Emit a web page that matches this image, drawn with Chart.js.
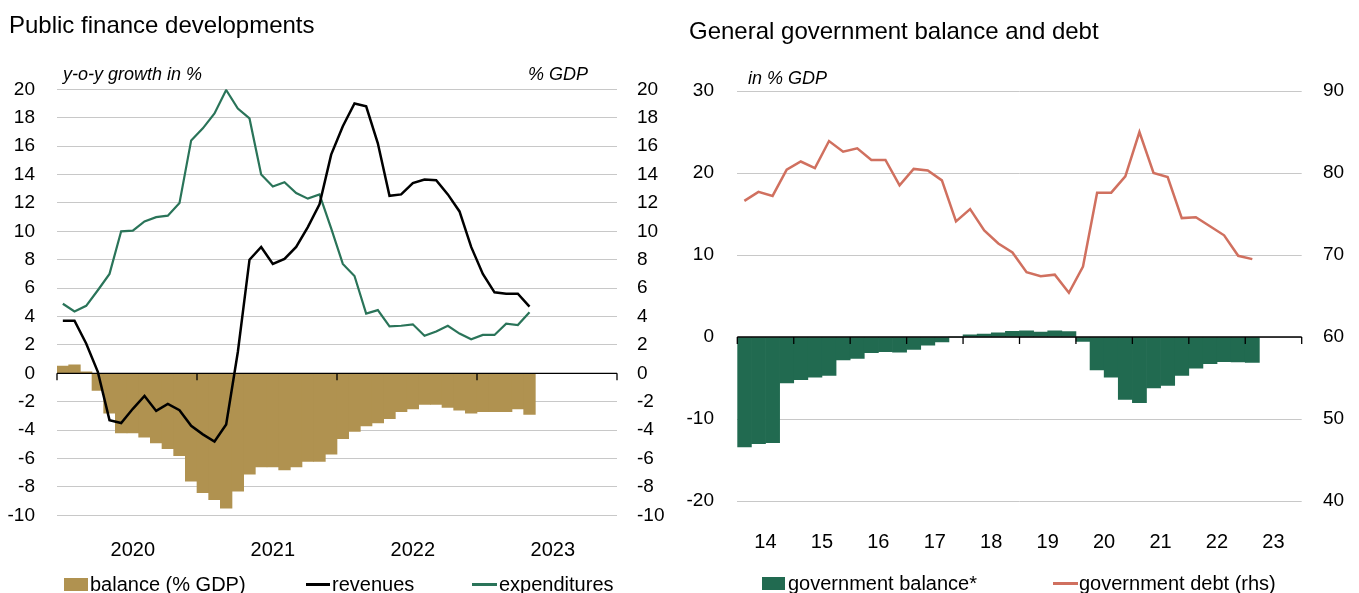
<html>
<head>
<meta charset="UTF-8" />
<title>Public finance developments</title>
<script src="https://cdn.jsdelivr.net/npm/chart.js"></script>
<style>
  body {
    margin: 0;
    padding: 0;
    width: 1359px;
    height: 593px;
    overflow: hidden;
    background: #ffffff;
    font-family: "Liberation Sans", Arial, sans-serif;
    color: #000000;
  }
  .box { position: absolute; top: 0; height: 593px; }
  .txt { position: absolute; white-space: nowrap; line-height: 1; }
  .title { font-size: 24px; }
  .unit { font-size: 18px; font-style: italic; }
  .leg { font-size: 20px; }
  .sw { position: absolute; }
</style>
<script>
// left chart: monthly, y-o-y growth in % / balance in % GDP
var years1 = ["2020", "2021", "2022", "2023"];
var balance1 = [0.5, 0.6, 0.1, -1.2, -2.8, -4.2, -4.2, -4.5, -4.9, -5.3, -5.8, -7.6,
                -8.4, -8.9, -9.5, -8.3, -7.1, -6.6, -6.6, -6.8, -6.6, -6.2, -6.2, -5.7,
                -4.6, -4.1, -3.7, -3.5, -3.2, -2.7, -2.5, -2.2, -2.2, -2.4, -2.6, -2.8,
                -2.7, -2.7, -2.7, -2.5, -2.9];
var revenues = [3.7, 3.7, 2.1, 0.1, -3.3, -3.5, -2.5, -1.6, -2.65, -2.15, -2.6, -3.7,
                -4.3, -4.8, -3.6, 1.5, 8.0, 8.9, 7.7, 8.05, 8.9, 10.3, 11.9, 15.4,
                17.4, 19.0, 18.8, 16.2, 12.5, 12.6, 13.4, 13.65, 13.6, 12.6, 11.4, 8.9,
                7.0, 5.7, 5.6, 5.6, 4.7];
var expenditures = [4.9, 4.35, 4.75, 5.85, 7.0, 10.0, 10.05, 10.7, 11.0, 11.1, 12.0, 16.4,
                    17.25, 18.3, 19.95, 18.65, 17.95, 14.0, 13.15, 13.45, 12.7, 12.3, 12.6, 10.2,
                    7.7, 6.85, 4.2, 4.45, 3.3, 3.35, 3.45, 2.65, 2.95, 3.35, 2.8, 2.4,
                    2.7, 2.7, 3.5, 3.4, 4.3];

// right chart: quarterly, in % GDP
var years2 = ["14", "15", "16", "17", "18", "19", "20", "21", "22", "23"];
var govBalance = [-13.4, -13.0, -12.9, -5.6, -5.2, -4.9, -4.7, -2.8, -2.6, -1.9, -1.8, -1.85,
                  -1.5, -1.0, -0.6, 0.0, 0.25, 0.35, 0.5, 0.7, 0.75, 0.6, 0.75, 0.65,
                  -0.55, -4.0, -4.9, -7.6, -8.0, -6.2, -5.9, -4.7, -3.8, -3.25, -3.0, -3.05,
                  -3.1];
var govDebt = [76.6, 77.7, 77.2, 80.4, 81.4, 80.6, 83.9, 82.6, 83.0, 81.6, 81.6, 78.5,
               80.5, 80.3, 79.1, 74.1, 75.6, 73.0, 71.4, 70.3, 67.9, 67.4, 67.6, 65.4,
               68.6, 77.6, 77.6, 79.6, 85.0, 80.0, 79.5, 74.5, 74.6, 73.5, 72.4, 69.9,
               69.5];

var TAN = "#b09250";
var GREEN_LINE = "#2a7459";
var GREEN_BAR = "#216a50";
var SALMON = "#d0705f";
var GRID = "#c8c8c8";

// black zero line with year tick marks, drawn right after the bars
var zeroAxis = {
    id: "zeroAxis",
    afterDatasetDraw: function(chart, args, opts) {
        if (args.index !== 0) return;
        var ctx = chart.ctx, a = chart.chartArea;
        var xs = chart.scales.x, ys = chart.scales.y;
        var y0 = ys.getPixelForValue(0);
        ctx.save();
        ctx.strokeStyle = "#000000";
        ctx.lineWidth = 1.3;
        ctx.beginPath();
        ctx.moveTo(a.left, y0);
        ctx.lineTo(a.right, y0);
        for (var i = 0; i <= chart.data.labels.length; i += opts.every) {
            var x = xs.getPixelForValue(i - 0.5);
            ctx.moveTo(x, y0);
            ctx.lineTo(x, y0 + 7);
        }
        ctx.stroke();
        ctx.restore();
    }
};
</script>
</head>
<body>
<div class="box" style="left:0; width:670px;"><canvas id="left" width="670" height="593"></canvas></div>
<div class="box" style="left:670px; width:689px;"><canvas id="right" width="689" height="593"></canvas></div>

<div class="txt title" style="left:9px; top:13px;">Public finance developments</div>
<div class="txt unit" style="left:63px; top:65px;">y-o-y growth in %</div>
<div class="txt unit" style="right:771px; top:65px;">% GDP</div>

<div class="txt title" style="left:689px; top:19px;">General government balance and debt</div>
<div class="txt unit" style="left:748px; top:69px;">in % GDP</div>

<div class="sw" style="left:64px; top:578px; width:24px; height:13px; background:#b09250;"></div>
<div class="txt leg" style="left:90px; top:574px;">balance (% GDP)</div>
<div class="sw" style="left:306px; top:583px; width:24px; height:2.5px; background:#000000;"></div>
<div class="txt leg" style="left:332px; top:574px;">revenues</div>
<div class="sw" style="left:472px; top:583px; width:25px; height:2.5px; background:#2a7459;"></div>
<div class="txt leg" style="left:499px; top:574px;">expenditures</div>

<div class="sw" style="left:762px; top:577px; width:23px; height:13px; background:#216a50;"></div>
<div class="txt leg" style="left:788px; top:573px;">government balance*</div>
<div class="sw" style="left:1053px; top:582px; width:25px; height:2.5px; background:#d0705f;"></div>
<div class="txt leg" style="left:1079px; top:573px;">government debt (rhs)</div>

<script>
Chart.defaults.font.family = "'Liberation Sans', Arial, sans-serif";
Chart.defaults.color = "#000000";

var months = [];
for (var y = 0; y < years1.length; y++) {
    for (var m = 1; m <= 12; m++) {
        months.push(years1[y] + "-" + (m < 10 ? "0" + m : m));
    }
}
var quarters = [];
for (var q = 0; q < years2.length; q++) {
    for (var k = 1; k <= 4; k++) {
        quarters.push(years2[q] + "Q" + k);
    }
}

new Chart(document.getElementById("left"), {
    type: "bar",
    data: {
        labels: months,
        datasets: [
            {
                type: "bar",
                label: "balance (% GDP)",
                data: balance1,
                backgroundColor: TAN,
                borderWidth: 0,
                barPercentage: 1,
                categoryPercentage: 1,
                yAxisID: "y",
                order: 2,
            },
            {
                type: "line",
                label: "revenues",
                data: revenues,
                borderColor: "#000000",
                borderWidth: 2.5,
                pointRadius: 0,
                tension: 0,
                yAxisID: "y",
                order: 1,
            },
            {
                type: "line",
                label: "expenditures",
                data: expenditures,
                borderColor: GREEN_LINE,
                borderWidth: 2.2,
                pointRadius: 0,
                tension: 0,
                yAxisID: "y",
                order: 1,
            },
        ],
    },
    options: {
        responsive: false,
        animation: false,
        layout: { padding: { top: 89.3, left: 0, right: 0, bottom: 0 } },
        plugins: {
            legend: { display: false },
            tooltip: { enabled: false },
            zeroAxis: { every: 12 },
        },
        scales: {
            x: {
                grid: { display: false },
                border: { display: false },
                ticks: {
                    autoSkip: false,
                    maxRotation: 0,
                    minRotation: 0,
                    padding: 15,
                    font: { size: 20 },
                    callback: function(v, i) { return i % 12 === 6 ? years1[Math.floor(i / 12)] : ""; },
                },
                afterFit: function(s) { s.height = 77.7; },
            },
            y: {
                position: "left",
                min: -10,
                max: 20,
                grid: { color: GRID, lineWidth: 1, drawTicks: false },
                border: { display: false },
                ticks: { stepSize: 2, padding: 22, font: { size: 19 } },
                afterFit: function(s) { s.width = 57; },
            },
            y2: {
                position: "right",
                min: -10,
                max: 20,
                grid: { drawOnChartArea: false, drawTicks: false },
                border: { display: false },
                ticks: { stepSize: 2, padding: 20, font: { size: 19 } },
                afterFit: function(s) { s.width = 53; },
            },
        },
    },
    plugins: [zeroAxis],
});

new Chart(document.getElementById("right"), {
    type: "bar",
    data: {
        labels: quarters,
        datasets: [
            {
                type: "bar",
                label: "government balance*",
                data: govBalance,
                backgroundColor: GREEN_BAR,
                borderWidth: 0,
                barPercentage: 1,
                categoryPercentage: 1,
                yAxisID: "y",
                order: 2,
            },
            {
                type: "line",
                label: "government debt (rhs)",
                data: govDebt,
                borderColor: SALMON,
                borderWidth: 2.5,
                pointRadius: 0,
                tension: 0,
                yAxisID: "y2",
                order: 1,
            },
        ],
    },
    options: {
        responsive: false,
        animation: false,
        layout: { padding: { top: 91, left: 0, right: 0, bottom: 0 } },
        plugins: {
            legend: { display: false },
            tooltip: { enabled: false },
            zeroAxis: { every: 4 },
        },
        scales: {
            x: {
                grid: { display: false },
                border: { display: false },
                ticks: {
                    autoSkip: false,
                    maxRotation: 0,
                    minRotation: 0,
                    padding: 21.5,
                    labelOffset: 7,
                    font: { size: 20 },
                    callback: function(v, i) { return i % 4 === 1 ? years2[Math.floor(i / 4)] : ""; },
                },
                afterFit: function(s) { s.height = 92; },
            },
            y: {
                position: "left",
                min: -20,
                max: 30,
                grid: { color: GRID, lineWidth: 1, drawTicks: false },
                border: { display: false },
                ticks: { stepSize: 10, padding: 23.3, font: { size: 19 } },
                afterFit: function(s) { s.width = 67.3; },
            },
            y2: {
                position: "right",
                min: 40,
                max: 90,
                grid: { drawOnChartArea: false, drawTicks: false },
                border: { display: false },
                ticks: { stepSize: 10, padding: 21.3, font: { size: 19 } },
                afterFit: function(s) { s.width = 57.3; },
            },
        },
    },
    plugins: [zeroAxis],
});
</script>
</body>
</html>
